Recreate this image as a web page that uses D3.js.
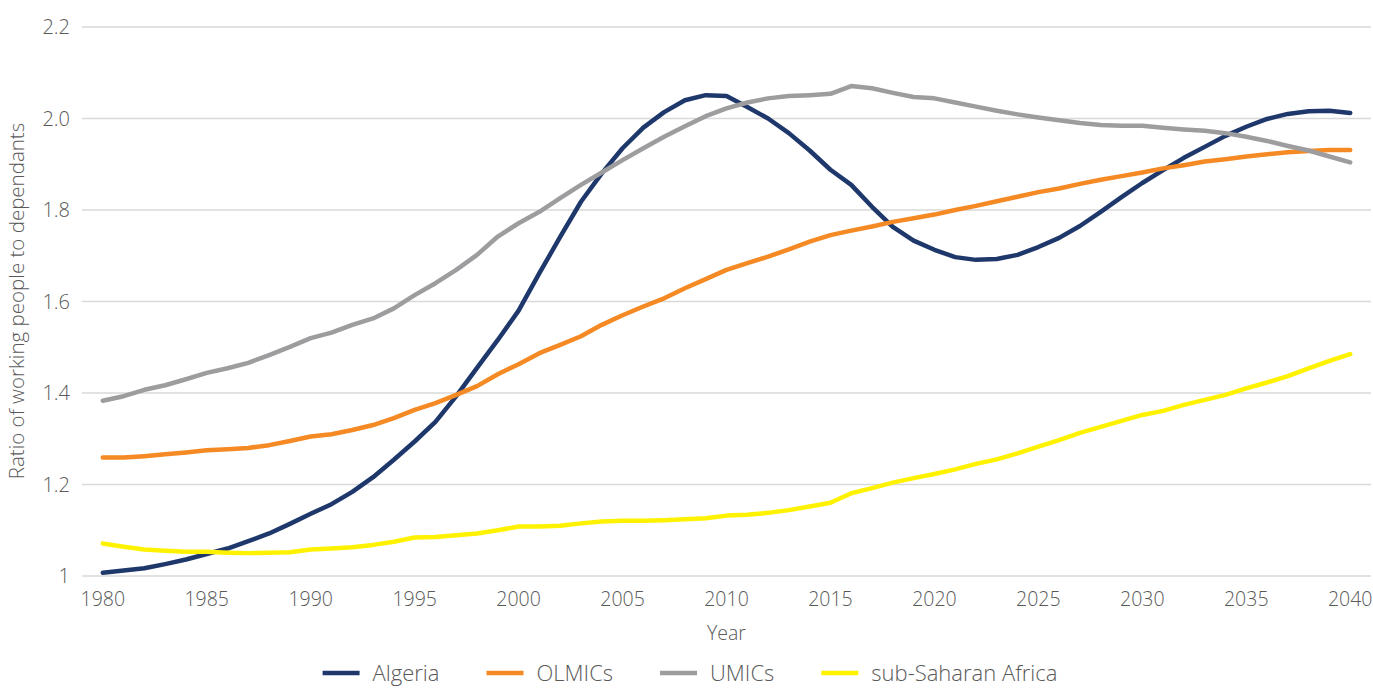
<!DOCTYPE html>
<html>
<head>
<meta charset="utf-8">
<script src="https://cdn.jsdelivr.net/npm/d3@7"></script>
<style>
  body { margin: 0; background: #fff; }
  svg text { font-family: "Open Sans", "Liberation Sans", sans-serif; font-weight: 300; fill: #595959; }
</style>
</head>
<body>
<svg width="1373" height="689"></svg>
<script>
var years = d3.range(1980, 2041);

var algeria = [1.007, 1.012, 1.017, 1.026, 1.036, 1.048, 1.060, 1.076, 1.093, 1.114,
  1.136, 1.157, 1.184, 1.216, 1.254, 1.294, 1.337, 1.393, 1.455, 1.516,
  1.580, 1.662, 1.741, 1.818, 1.880, 1.935, 1.980, 2.014, 2.040, 2.051,
  2.049, 2.025, 2.000, 1.968, 1.930, 1.888, 1.855, 1.807, 1.763, 1.733,
  1.713, 1.697, 1.691, 1.693, 1.702, 1.719, 1.739, 1.765, 1.796, 1.828,
  1.859, 1.887, 1.914, 1.938, 1.962, 1.982, 1.999, 2.010, 2.016, 2.017, 2.012];

var olmics = [1.259, 1.259, 1.262, 1.266, 1.270, 1.275, 1.277, 1.280, 1.286, 1.295,
  1.305, 1.310, 1.319, 1.330, 1.345, 1.363, 1.378, 1.396, 1.415, 1.441,
  1.463, 1.487, 1.505, 1.524, 1.549, 1.570, 1.589, 1.607, 1.629, 1.649,
  1.669, 1.684, 1.698, 1.714, 1.731, 1.745, 1.755, 1.764, 1.774, 1.782,
  1.790, 1.800, 1.809, 1.819, 1.829, 1.839, 1.847, 1.857, 1.866, 1.874,
  1.882, 1.891, 1.898, 1.906, 1.911, 1.917, 1.922, 1.926, 1.929, 1.931, 1.931];

var umics = [1.383, 1.393, 1.407, 1.417, 1.430, 1.444, 1.454, 1.466, 1.483, 1.501,
  1.520, 1.532, 1.549, 1.563, 1.585, 1.614, 1.640, 1.669, 1.702, 1.742,
  1.771, 1.796, 1.826, 1.855, 1.882, 1.909, 1.935, 1.960, 1.983, 2.005,
  2.022, 2.035, 2.044, 2.049, 2.051, 2.054, 2.071, 2.066, 2.056, 2.047,
  2.044, 2.035, 2.026, 2.017, 2.009, 2.002, 1.996, 1.990, 1.986, 1.984,
  1.984, 1.980, 1.976, 1.973, 1.968, 1.960, 1.951, 1.940, 1.930, 1.917, 1.904];

var ssa = [1.071, 1.064, 1.058, 1.055, 1.053, 1.053, 1.051, 1.050, 1.051, 1.052,
  1.058, 1.060, 1.063, 1.068, 1.075, 1.084, 1.085, 1.089, 1.093, 1.100,
  1.108, 1.108, 1.110, 1.115, 1.119, 1.121, 1.121, 1.122, 1.124, 1.126,
  1.132, 1.134, 1.138, 1.144, 1.152, 1.160, 1.181, 1.192, 1.204, 1.214,
  1.223, 1.233, 1.245, 1.255, 1.268, 1.283, 1.297, 1.313, 1.326, 1.339,
  1.352, 1.361, 1.374, 1.385, 1.396, 1.410, 1.423, 1.437, 1.454, 1.470, 1.485];

var seriesNames = ["Algeria", "OLMICs", "UMICs", "sub-Saharan Africa"];
var seriesColors = ["#1f386b", "#f58a25", "#9d9d9f", "#fff200"];
var seriesValues = [algeria, olmics, umics, ssa];

var yTicks = [1, 1.2, 1.4, 1.6, 1.8, 2.0, 2.2];
var xTicks = d3.range(1980, 2041, 5);

var svg = d3.select("svg");

var x = d3.scaleLinear().domain([1979, 2041]).range([82, 1371]);
var y = d3.scaleLinear().domain([1, 2.2]).range([576, 27]);

// gridlines
svg.append("g")
  .selectAll("line")
  .data(yTicks)
  .enter()
  .append("line")
  .attr("x1", x(1979))
  .attr("x2", x(2041))
  .attr("y1", function (d) { return y(d); })
  .attr("y2", function (d) { return y(d); })
  .attr("stroke", "#d9d9d9")
  .attr("stroke-width", 1.5);

// y tick labels
svg.append("g")
  .selectAll("text")
  .data(yTicks)
  .enter()
  .append("text")
  .attr("x", 70)
  .attr("y", function (d) { return y(d); })
  .attr("dy", "0.36em")
  .attr("text-anchor", "end")
  .style("font-size", "20px")
  .text(function (d) { return d === 1 ? "1" : d3.format(".1f")(d); });

// x tick labels
svg.append("g")
  .selectAll("text")
  .data(xTicks)
  .enter()
  .append("text")
  .attr("x", function (d) { return x(d); })
  .attr("y", 606)
  .attr("text-anchor", "middle")
  .style("font-size", "19.5px")
  .text(function (d) { return d; });

svg.append("text")
  .attr("x", x(2010))
  .attr("y", 640)
  .attr("text-anchor", "middle")
  .style("font-size", "19.5px")
  .text("Year");

svg.append("text")
  .attr("transform", "translate(24,301) rotate(-90)")
  .attr("text-anchor", "middle")
  .style("font-size", "20.5px")
  .text("Ratio of working people to dependants");

// lines
var line = d3.line()
  .x(function (d, i) { return x(years[i]); })
  .y(function (d) { return y(d); });

svg.append("g")
  .selectAll("path")
  .data(seriesValues)
  .enter()
  .append("path")
  .attr("d", line)
  .attr("fill", "none")
  .attr("stroke", function (d, i) { return seriesColors[i]; })
  .attr("stroke-width", 4.5)
  .attr("stroke-linejoin", "round")
  .attr("stroke-linecap", "round");

// legend
var legend = svg.append("g");
var item = legend.selectAll("g")
  .data(seriesNames)
  .enter()
  .append("g");

item.append("line")
  .attr("x1", 0).attr("x2", 37)
  .attr("y1", 0).attr("y2", 0)
  .attr("stroke", function (d, i) { return seriesColors[i]; })
  .attr("stroke-width", 4.5);

item.append("text")
  .attr("x", 50)
  .attr("dy", "0.36em")
  .style("font-size", "22px")
  .text(function (d) { return d; });

var pos = 0, offsets = [];
item.each(function (d, i) {
  var w = 50 + this.querySelector("text").getComputedTextLength();
  offsets.push(pos);
  pos += w + 47;
});
var total = pos - 47;
var start = 690 - total / 2;
item.attr("transform", function (d, i) { return "translate(" + (start + offsets[i]) + ",673)"; });
</script>
</body>
</html>
